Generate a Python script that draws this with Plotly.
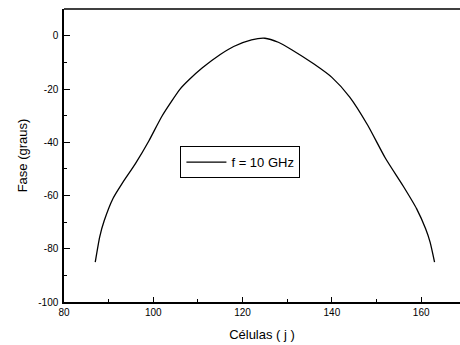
import plotly.graph_objects as go

cells = [87, 88, 89, 91, 93, 96, 99, 102, 106, 108, 111, 115, 118, 122, 125,
         128, 131, 136, 140, 144, 148, 152, 156, 159, 161, 162, 163]
phase = [-85, -75.5, -69.5, -61, -55.5, -48, -39.5, -30, -20, -16.5, -12, -7, -4, -1.5, -0.9,
         -2.4, -5.2, -10.6, -15.6, -23, -33.5, -46, -56.5, -65, -72.5, -77.5, -85]
series_name = "f = 10 GHz"
x_ticks = [80, 100, 120, 140, 160]
y_ticks = [0, -20, -40, -60, -80, -100]
y_tick_labels = ["0", "-20", "-40", "-60", "-80", "-100"]

font = "Liberation Sans, Arial, sans-serif"

fig = go.Figure()
fig.add_trace(go.Scatter(x=cells, y=phase, mode="lines", name=series_name,
                         line=dict(color="black", width=1.3, shape="spline", smoothing=0.6)))

fig.update_layout(
    width=460, height=345,
    margin=dict(l=64, r=0, t=9, b=43),
    plot_bgcolor="white", paper_bgcolor="white",
    font=dict(family=font, color="black"),
    showlegend=True,
    legend=dict(x=0.294, y=0.532, xanchor="left", yanchor="top",
                bgcolor="white", bordercolor="black", borderwidth=1,
                font=dict(size=13, family=font), itemwidth=40,
                tracegroupgap=0),
    xaxis=dict(range=[80, 168.7], tickvals=x_ticks, ticks="inside", ticklen=5,
               tickwidth=1, tickcolor="black", showline=True, linecolor="black",
               linewidth=1.5, showgrid=False, zeroline=False, automargin=False,
               tickfont=dict(size=10, family=font, color="black"),
               minor=dict(tickvals=[90, 110, 130, 150], ticks="inside", ticklen=3,
                          tickcolor="black", tickwidth=1),
               title=dict(text="Células ( j )", font=dict(size=13, family=font), standoff=13)),
    yaxis=dict(range=[-100, 10.1], tickvals=y_ticks, ticktext=y_tick_labels,
               ticks="inside", ticklen=6,
               tickwidth=1, tickcolor="black", showline=True, linecolor="black",
               linewidth=1.5, showgrid=False, zeroline=False, automargin=False,
               tickfont=dict(size=10, family=font, color="black"),
               ticklabelstandoff=2,
               minor=dict(tickvals=[-10, -30, -50, -70, -90], ticks="inside", ticklen=3,
                          tickcolor="black", tickwidth=1),
               title=dict(text="Fase (graus)", font=dict(size=13, family=font), standoff=8)),
    shapes=[dict(type="line", xref="paper", yref="paper", x0=0, x1=1, y0=1, y1=1,
                 line=dict(color="black", width=1.5))],
)

fig.write_html("out.html", config={"displayModeBar": False},
               post_script="document.body.style.margin='0';")
